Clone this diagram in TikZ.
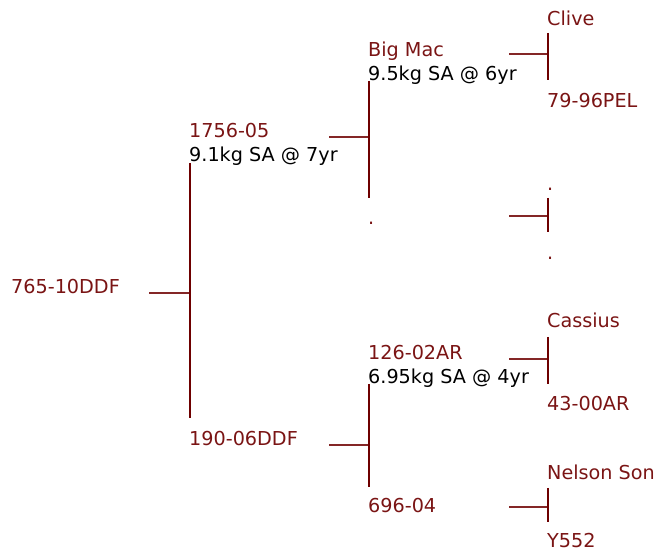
\documentclass[tikz,border=0pt]{standalone}
\usepackage{fontspec}
\setmainfont{DejaVu Sans}
\definecolor{maroon}{RGB}{122,20,20}
\definecolor{linec}{RGB}{110,0,0}
\begin{document}
\begin{tikzpicture}[x=1pt,y=-1pt,
  nm/.style={anchor=base west,inner sep=0pt,text=maroon,font=\fontsize{19.2}{23}\selectfont},
  info/.style={anchor=base west,inner sep=0pt,text=black,font=\fontsize{19.2}{23}\selectfont},
  vline/.style={draw=linec,line width=2pt},
  hline/.style={draw=linec!85!white,line width=1.6pt}]
\useasboundingbox (0,0) rectangle (665,553);
% generation 0
\node[nm] (root) at (11,294) {765-10DDF};
% generation 1
\node[nm] (s) at (189,138) {1756-05};
\node[info] (si) at (189,162) {9.1kg SA @ 7yr};
\node[nm] (d) at (189,446) {190-06DDF};
% generation 2
\node[nm] (ss) at (368,57) {Big Mac};
\node[info] (ssi) at (368,81) {9.5kg SA @ 6yr};
\node[nm] (sd) at (368,225) {.};
\node[nm] (ds) at (368,360) {126-02AR};
\node[info] (dsi) at (368,384) {6.95kg SA @ 4yr};
\node[nm] (dd) at (368,513) {696-04};
% generation 3
\node[nm] (sss) at (547,26) {Clive};
\node[nm] (ssd) at (547,108) {79-96PEL};
\node[nm] (sds) at (547,191) {.};
\node[nm] (sdd) at (547,260) {.};
\node[nm] (dss) at (547,328) {Cassius};
\node[nm] (dsd) at (547,411) {43-00AR};
\node[nm] (dds) at (547,480) {Nelson Son};
\node[nm] (ddd) at (547,548) {Y552};
% bracket coordinates
\coordinate (r0) at (149,293);
\coordinate (r1) at (190,293);
\coordinate (r1t) at (190,163);
\coordinate (r1b) at (190,418);
\coordinate (a0) at (329,137);
\coordinate (a1) at (369,137);
\coordinate (a1t) at (369,81);
\coordinate (a1b) at (369,198);
\coordinate (b0) at (329,445);
\coordinate (b1) at (369,445);
\coordinate (b1t) at (369,384);
\coordinate (b1b) at (369,487);
\coordinate (c0) at (509,54);
\coordinate (c1) at (548,54);
\coordinate (c1t) at (548,33);
\coordinate (c1b) at (548,80);
\coordinate (e0) at (509,216);
\coordinate (e1) at (548,216);
\coordinate (e1t) at (548,198);
\coordinate (e1b) at (548,232);
\coordinate (f0) at (509,359);
\coordinate (f1) at (548,359);
\coordinate (f1t) at (548,337);
\coordinate (f1b) at (548,384);
\coordinate (g0) at (509,507);
\coordinate (g1) at (548,507);
\coordinate (g1t) at (548,488);
\coordinate (g1b) at (548,522);
% connectors
\foreach \p in {r,a,b,c,e,f,g}{
  \draw[hline] (\p0) -- (\p1);
  \draw[vline] (\p1t) -- (\p1b);
}
\end{tikzpicture}
\end{document}
